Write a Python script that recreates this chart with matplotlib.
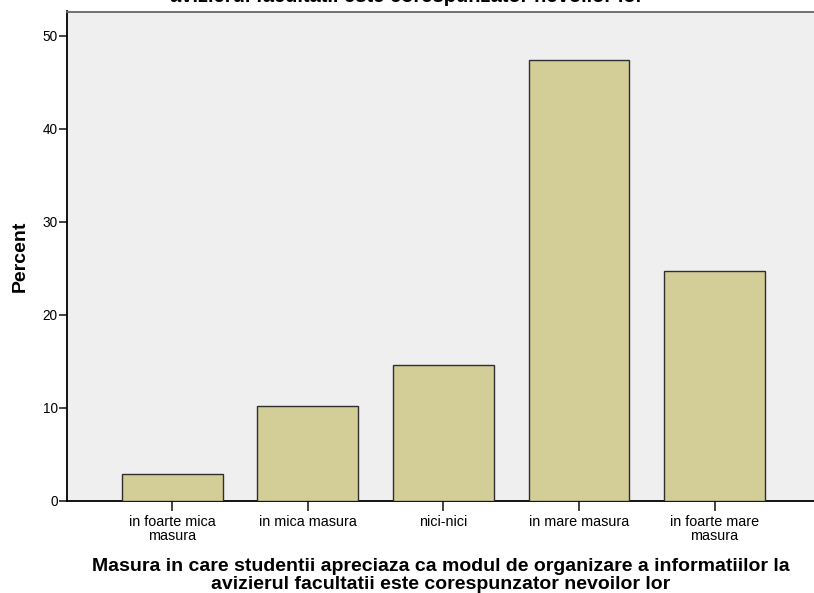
import numpy as np
import matplotlib
matplotlib.use('Agg')
import matplotlib.pyplot as plt

plt.rcParams['font.family'] = ['Liberation Sans', 'DejaVu Sans']

categories = ['in foarte mica\nmasura', 'in mica masura', 'nici-nici',
              'in mare masura', 'in foarte mare\nmasura']
percent = [2.9, 10.2, 14.6, 47.4, 24.7]

W, H = 814, 593
fig = plt.figure(figsize=(W / 100, H / 100), dpi=100)
ax = fig.add_axes([67.3 / W, (H - 500.7) / H, 1 - 67.3 / W, (500.7 - 11.5) / H])
ax.set_facecolor('#efefef')

x = np.arange(len(categories))
ax.bar(x, percent, width=0.745, color='#d3ce97', edgecolor='#2e2e2e', linewidth=1.0, zorder=3)

ax.set_xlim(-0.776, 4.734)
ax.set_ylim(0, 52.6)
ax.set_yticks([0, 10, 20, 30, 40, 50])
ax.set_xticks(x)
ax.set_xticklabels(categories, fontsize=10.4, linespacing=1.05)
ax.tick_params(axis='y', labelsize=9.8, length=6, width=1.2, pad=1, color='#222222')
ax.tick_params(axis='x', length=7, width=1.2, pad=3, color='#222222')

ax.spines['right'].set_visible(False)
ax.spines['left'].set_linewidth(1.3)
ax.spines['bottom'].set_linewidth(1.3)
ax.spines['top'].set_color('#666666')
ax.spines['top'].set_linewidth(1.3)

ax.set_ylabel('Percent', fontsize=14, fontweight='bold', labelpad=10)
ax.set_xlabel('Masura in care studentii apreciaza ca modul de organizare a informatiilor la\n'
              'avizierul facultatii este corespunzator nevoilor lor',
              fontsize=14, fontweight='bold', labelpad=11, linespacing=1.05)

# title, mostly cut off at the top edge
fig.text(0.5, 1 - 2.5 / H, 'avizierul facultatii este corespunzator nevoilor lor',
         ha='center', va='baseline', fontsize=14.5, fontweight='bold')

fig.savefig('out.png', dpi=100)
